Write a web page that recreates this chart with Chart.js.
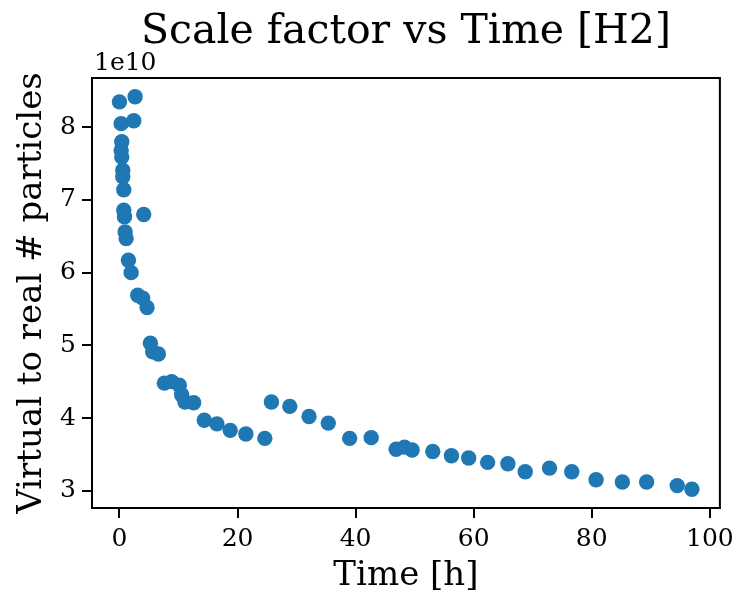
<!DOCTYPE html>
<html>
<head>
<meta charset="utf-8">
<script src="https://cdn.jsdelivr.net/npm/chart.js@4"></script>
<style>
  html, body { margin: 0; padding: 0; background: #fff; }
  canvas { display: block; }
</style>
</head>
<body>
<canvas id="chart" width="740" height="591"></canvas>
<script>
// time in hours
const timeHours = [
  0.00, 2.65, 2.42, 0.29, 0.39, 0.29, 0.39, 0.56, 0.56, 0.73,
  0.73, 0.85, 4.11, 0.96, 1.13, 1.52, 1.98, 3.09, 3.94, 4.68,
  5.24, 5.63, 6.59, 7.61, 8.84, 10.14, 10.53, 11.10, 12.56, 14.37,
  16.51, 18.76, 21.41, 24.62, 25.74, 28.85, 32.11, 35.37, 38.99, 42.64,
  46.86, 48.28, 49.57, 53.07, 56.23, 59.15, 62.36, 65.79, 68.73, 72.84,
  76.61, 80.73, 85.18, 89.29, 94.47, 96.96
];
// virtual to real # particles
const scaleFactor = [
  8.35e10, 8.42e10, 8.09e10, 8.05e10, 7.80e10, 7.68e10, 7.59e10, 7.41e10, 7.32e10, 7.14e10,
  6.86e10, 6.77e10, 6.80e10, 6.56e10, 6.47e10, 6.17e10, 6.00e10, 5.69e10, 5.65e10, 5.52e10,
  5.03e10, 4.91e10, 4.88e10, 4.48e10, 4.50e10, 4.45e10, 4.32e10, 4.22e10, 4.21e10, 3.97e10,
  3.92e10, 3.83e10, 3.78e10, 3.72e10, 4.22e10, 4.16e10, 4.02e10, 3.93e10, 3.72e10, 3.73e10,
  3.57e10, 3.60e10, 3.56e10, 3.54e10, 3.48e10, 3.45e10, 3.39e10, 3.37e10, 3.26e10, 3.31e10,
  3.26e10, 3.15e10, 3.12e10, 3.12e10, 3.07e10, 3.02e10
];
const xTicks = [0, 20, 40, 60, 80, 100];
const yTicks = [3e10, 4e10, 5e10, 6e10, 7e10, 8e10];

const FONT = "'DejaVu Serif', serif";
const points = timeHours.map((t, i) => ({ x: t, y: scaleFactor[i] }));

// title, frame and the 1e10 offset label
const extras = {
  id: 'extras',
  afterDraw(chart) {
    const { ctx, chartArea: a } = chart;
    ctx.save();
    ctx.strokeStyle = '#000';
    ctx.lineWidth = 2;
    ctx.strokeRect(a.left, a.top, a.right - a.left, a.bottom - a.top);
    ctx.fillStyle = '#000';
    ctx.textBaseline = 'alphabetic';
    ctx.textAlign = 'center';
    ctx.font = '41px ' + FONT;
    ctx.fillText('Scale factor vs Time [H2]', (a.left + a.right) / 2, 43);
    ctx.textAlign = 'left';
    ctx.font = '25px ' + FONT;
    ctx.fillText('1e10', a.left + 2, 70);
    ctx.restore();
  }
};

new Chart(document.getElementById('chart'), {
  type: 'scatter',
  data: {
    datasets: [{
      data: points,
      backgroundColor: '#1f77b4',
      borderWidth: 0,
      pointRadius: 7.7,
      pointHoverRadius: 7.7
    }]
  },
  options: {
    responsive: false,
    animation: false,
    events: [],
    layout: { padding: { top: 78, right: 18, bottom: 0, left: 0 } },
    plugins: {
      legend: { display: false },
      title: { display: false },
      tooltip: { enabled: false }
    },
    scales: {
      x: {
        type: 'linear',
        min: -4.65,
        max: 101.7,
        afterFit(scale) { scale.height = 83; },
        afterBuildTicks(scale) { scale.ticks = xTicks.map(v => ({ value: v })); },
        grid: { drawOnChartArea: false, color: '#000', lineWidth: 2, tickLength: 10 },
        border: { display: true, color: '#000', width: 2 },
        ticks: { color: '#000', padding: 6, maxRotation: 0, font: { family: FONT, size: 25 } },
        title: {
          display: true, text: 'Time [h]', color: '#000',
          font: { family: FONT, size: 34, lineHeight: 0.9 },
          padding: { top: 0, bottom: 0 }
        }
      },
      y: {
        type: 'linear',
        min: 2.762e10,
        max: 8.678e10,
        afterFit(scale) { scale.width = 92; },
        afterBuildTicks(scale) { scale.ticks = yTicks.map(v => ({ value: v })); },
        grid: { drawOnChartArea: false, color: '#000', lineWidth: 2, tickLength: 10 },
        border: { display: true, color: '#000', width: 2 },
        ticks: {
          color: '#000', padding: 6, font: { family: FONT, size: 25 },
          callback: v => String(Math.round(v / 1e10))
        },
        title: {
          display: true, text: 'Virtual to real # particles', color: '#000',
          font: { family: FONT, size: 34, lineHeight: 1.2 },
          padding: { top: 12, bottom: 0 }
        }
      }
    }
  },
  plugins: [extras]
});
</script>
</body>
</html>
